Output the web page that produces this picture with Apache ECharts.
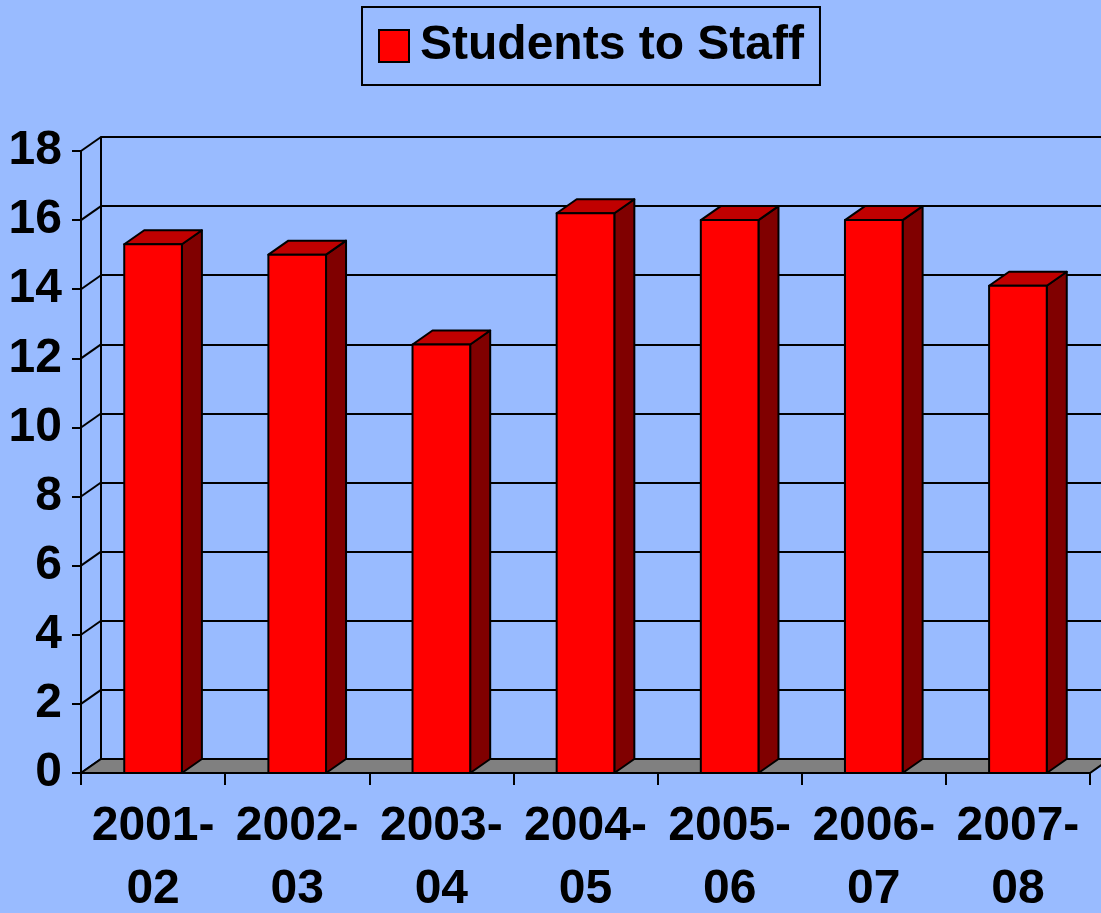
<!DOCTYPE html>
<html>
<head>
<meta charset="utf-8">
<script src="https://cdn.jsdelivr.net/npm/echarts@6/dist/echarts.min.js"></script>
<style>
  html, body { margin: 0; padding: 0; background: #99bbff; }
  #chart { width: 1101px; height: 913px; }
</style>
</head>
<body>
<div id="chart"></div>
<script>
// 数据
const years = ['2001-\n02', '2002-\n03', '2003-\n04', '2004-\n05', '2005-\n06', '2006-\n07', '2007-\n08']
const ratio = [15.3, 15.0, 12.4, 16.2, 16.0, 16.0, 14.1]
const yTicks = [0, 2, 4, 6, 8, 10, 12, 14, 16, 18]
const seriesName = 'Students to Staff'

// 3D 深度偏移
const DX = 20
const DY = 14
const font = '"Liberation Sans", Arial, sans-serif'

const chart = echarts.init(document.getElementById('chart'))

// 画一根立体柱子
function renderBar (params, api) {
  const x = api.coord([api.value(0), api.value(1)])
  const base = api.coord([api.value(0), 0])
  const w = api.size([1, 0])[0] * 0.4
  const l = x[0] - w / 2
  const r = x[0] + w / 2
  const t = x[1]
  const b = base[1]
  const line = { stroke: '#000', lineWidth: 2, lineJoin: 'round' }
  return {
    type: 'group',
    children: [
      {
        type: 'polygon',
        shape: { points: [[r, t], [r + DX, t - DY], [r + DX, b - DY], [r, b]] },
        style: Object.assign({ fill: '#800000' }, line)
      },
      {
        type: 'polygon',
        shape: { points: [[l, t], [l + DX, t - DY], [r + DX, t - DY], [r, t]] },
        style: Object.assign({ fill: '#c00000' }, line)
      },
      {
        type: 'rect',
        shape: { x: l, y: t, width: w, height: b - t },
        style: Object.assign({ fill: '#ff0000' }, line)
      }
    ]
  }
}

// 左侧刻度到背墙的斜线
function renderLink (params, api) {
  const cs = params.coordSys
  const y = api.coord([0, api.value(0)])[1]
  return {
    type: 'line',
    shape: { x1: cs.x, y1: y, x2: cs.x + DX, y2: y - DY },
    style: { stroke: '#000', lineWidth: 2 }
  }
}

// 地板
function renderFloor (params, api) {
  const cs = params.coordSys
  const y = api.coord([0, 0])[1]
  const x0 = cs.x
  const x1 = cs.x + cs.width
  return {
    type: 'polygon',
    shape: { points: [[x0, y], [x1, y], [x1 + DX, y - DY], [x0 + DX, y - DY]] },
    style: { fill: '#808080', stroke: '#000', lineWidth: 2 }
  }
}

const option = {
  backgroundColor: '#99bbff',
  animation: false,
  legend: {
    data: [{ name: seriesName, icon: 'rect' }],
    left: 362,
    top: 7,
    padding: [15, 16, 15, 16],
    itemWidth: 30,
    itemHeight: 32,
    itemGap: 0,
    borderColor: '#000',
    borderWidth: 2,
    itemStyle: { color: '#ff0000', borderColor: '#000', borderWidth: 2 },
    textStyle: { fontFamily: font, fontWeight: 'bold', fontSize: 48, color: '#000', lineHeight: 48, padding: [0, 0, 0, 6] }
  },
  grid: [
    { left: 81, right: 11, top: 151, bottom: 140, outerBoundsMode: 'none' },
    { left: 101, right: -9, top: 137, bottom: 154, outerBoundsMode: 'none' }
  ],
  xAxis: [
    {
      type: 'category',
      gridIndex: 0,
      data: years,
      axisLine: { lineStyle: { color: '#000', width: 2 } },
      axisTick: { show: true, length: 12, lineStyle: { color: '#000', width: 2 } },
      axisLabel: {
        margin: 22,
        color: '#000',
        fontFamily: font,
        fontWeight: 'bold',
        fontSize: 48,
        lineHeight: 63,
        interval: 0
      },
      splitLine: { show: false }
    },
    {
      type: 'category',
      gridIndex: 1,
      data: years,
      show: false
    }
  ],
  yAxis: [
    {
      type: 'value',
      gridIndex: 0,
      min: 0,
      max: 18,
      interval: 2,
      axisLine: { show: true, lineStyle: { color: '#000', width: 2 } },
      axisTick: { show: true, length: 9, lineStyle: { color: '#000', width: 2 } },
      axisLabel: {
        margin: 19,
        color: '#000',
        fontFamily: font,
        fontWeight: 'bold',
        fontSize: 48
      },
      splitLine: { show: false }
    },
    {
      type: 'value',
      gridIndex: 1,
      min: 0,
      max: 18,
      interval: 2,
      axisLine: { show: true, lineStyle: { color: '#000', width: 2 } },
      axisTick: { show: false },
      axisLabel: { show: false },
      splitLine: { show: true, lineStyle: { color: '#000', width: 2 } }
    }
  ],
  series: [
    {
      type: 'custom',
      name: 'links',
      xAxisIndex: 0,
      yAxisIndex: 0,
      renderItem: renderLink,
      data: yTicks.map(v => [v]),
      encode: { y: 0 },
      silent: true,
      z: 1
    },
    {
      type: 'custom',
      name: 'floor',
      xAxisIndex: 0,
      yAxisIndex: 0,
      renderItem: renderFloor,
      data: [[0]],
      silent: true,
      z: 1
    },
    {
      type: 'custom',
      name: seriesName,
      xAxisIndex: 0,
      yAxisIndex: 0,
      renderItem: renderBar,
      data: ratio.map((v, i) => [i, v]),
      encode: { x: 0, y: 1 },
      itemStyle: { color: '#ff0000' },
      z: 3
    }
  ]
}

chart.setOption(option)
</script>
</body>
</html>
